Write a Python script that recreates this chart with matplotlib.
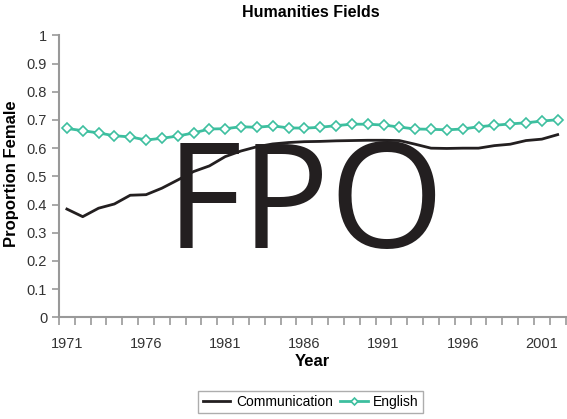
import matplotlib

matplotlib.use("Agg")

import matplotlib.pyplot as plt
from matplotlib.ticker import FixedLocator

years = list(range(1971, 2003))
communication = [
    0.384, 0.357, 0.387, 0.402, 0.433, 0.435, 0.458, 0.487, 0.517, 0.537,
    0.570, 0.590, 0.605, 0.615, 0.620, 0.623, 0.624, 0.626, 0.627, 0.628,
    0.628, 0.627, 0.614, 0.600, 0.599, 0.600, 0.600, 0.609, 0.614, 0.627,
    0.632, 0.648,
]
english = [
    0.670, 0.662, 0.654, 0.644, 0.640, 0.629, 0.635, 0.643, 0.654, 0.668,
    0.669, 0.676, 0.674, 0.679, 0.672, 0.671, 0.674, 0.680, 0.685, 0.685,
    0.682, 0.675, 0.668, 0.667, 0.665, 0.668, 0.676, 0.681, 0.686, 0.690,
    0.696, 0.701,
]
year_labels = [1971, 1976, 1981, 1986, 1991, 1996, 2001]
y_ticks = [0, 0.1, 0.2, 0.3, 0.4, 0.5, 0.6, 0.7, 0.8, 0.9, 1]
y_tick_labels = ["0", "0.1", "0.2", "0.3", "0.4", "0.5", "0.6", "0.7", "0.8", "0.9", "1"]

_AXIS_GREY = "#999999"
_TEAL = "#3dbf9f"

plt.rcParams["font.family"] = ["Liberation Sans", "DejaVu Sans"]

fig = plt.figure(figsize=(5.67, 4.19), dpi=100)
ax = fig.add_axes([0.104, 0.2427, 0.8935, 0.6728])

ax.plot(years, communication, color="#231f20", linewidth=2.0, label="Communication")
ax.plot(
    years, english, color=_TEAL, linewidth=2.0, marker="D", markersize=5,
    markerfacecolor="white", markeredgecolor=_TEAL, markeredgewidth=1.2, label="English",
)

ax.set_xlim(1970.5, 2002.5)
ax.set_ylim(0, 1)
ax.yaxis.set_major_locator(FixedLocator(y_ticks))
ax.set_yticklabels(y_tick_labels)
ax.xaxis.set_major_locator(FixedLocator(year_labels))
ax.set_xticklabels([str(y) for y in year_labels])
ax.xaxis.set_minor_locator(FixedLocator([y + 0.5 for y in range(1970, 2003)]))
ax.tick_params(axis="x", which="major", length=0, labelsize=10.5, colors="#333333", pad=14)
ax.tick_params(axis="x", which="minor", length=6, width=1.2, color=_AXIS_GREY)
ax.tick_params(axis="y", length=5, width=1.2, color=_AXIS_GREY, labelsize=10.5, labelcolor="#333333")

for side in ("top", "right"):
    ax.spines[side].set_visible(False)
for side in ("left", "bottom"):
    ax.spines[side].set_color(_AXIS_GREY)
    ax.spines[side].set_linewidth(1.5)

ax.set_xlabel("Year", fontsize=12, fontweight="bold", labelpad=2)
fig.text(0.02, 0.585, "Proportion Female", rotation=90, ha="center", va="center",
         fontsize=12, fontweight="bold")
fig.text(0.548, 0.97, "Humanities Fields", ha="center", va="center", fontsize=11.5, fontweight="bold")

ax.legend(
    loc="center", bbox_to_anchor=(0.548, 0.04), bbox_transform=fig.transFigure, ncol=2,
    frameon=True, fancybox=False, edgecolor=_AXIS_GREY, fontsize=10, handlelength=2.0,
    columnspacing=0.5, handletextpad=0.4, borderpad=0.3, markerscale=0.7,
)

fig.text(0.539, 0.499, "FPO", ha="center", va="center", fontsize=106,
         family=["Open Sans", "DejaVu Sans"], color="#231f20")

fig.savefig("out.png", dpi=100)
